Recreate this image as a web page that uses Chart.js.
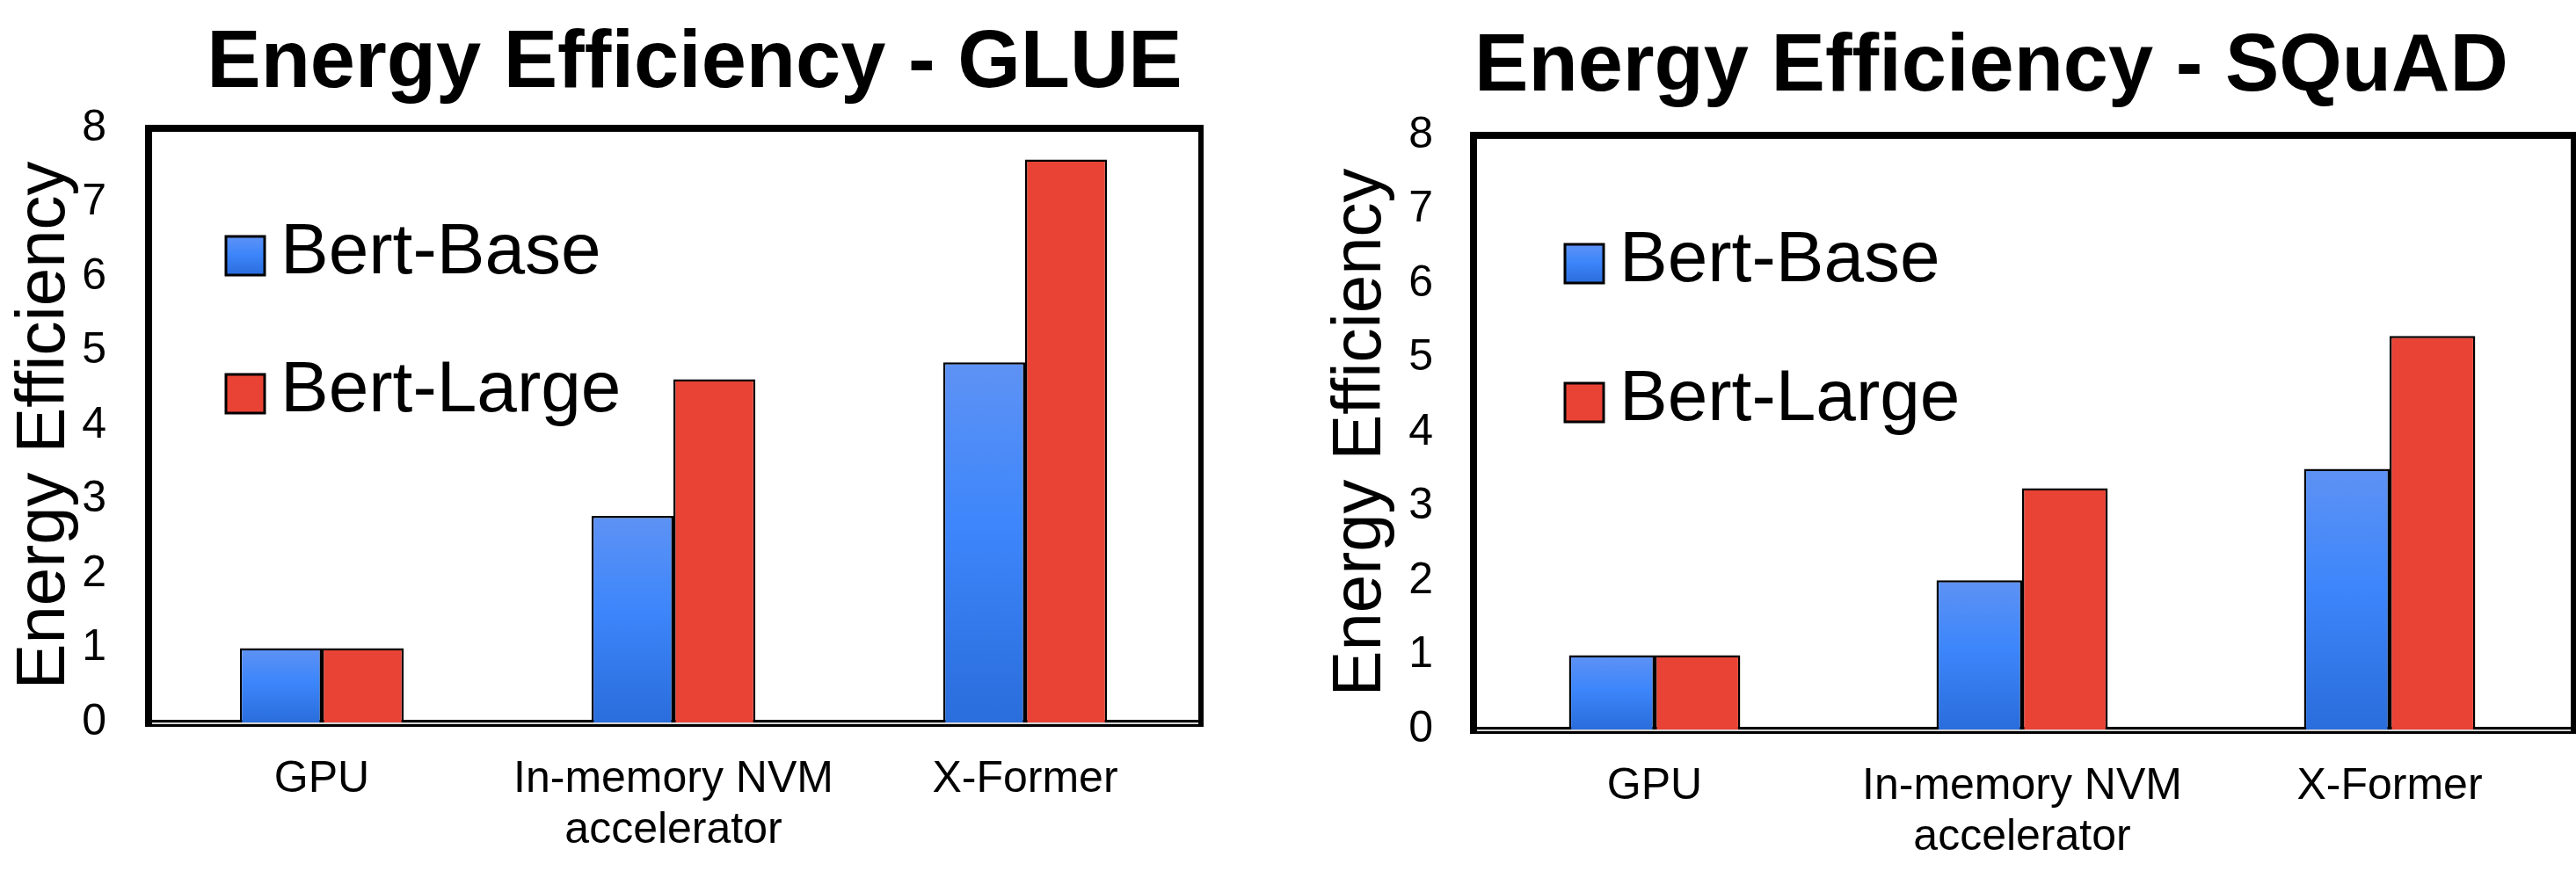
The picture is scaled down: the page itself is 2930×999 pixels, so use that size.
<!DOCTYPE html>
<html>
<head>
<meta charset="utf-8">
<script src="https://cdn.jsdelivr.net/npm/chart.js@4.4.1/dist/chart.umd.min.js"></script>
<style>
  html, body { margin: 0; padding: 0; background: #fff; }
  body { position: relative; width: 2930px; height: 999px; overflow: hidden; }
  canvas { position: absolute; top: 0; }
</style>
</head>
<body>
<canvas id="glue" width="1580" height="999" style="left:0"></canvas>
<canvas id="squad" width="1600" height="999" style="left:1465px"></canvas>
<script>
const categories = ['GPU', ['In-memory NVM', 'accelerator'], 'X-Former'];
const seriesNames = ['Bert-Base', 'Bert-Large'];
const glueBase = [1, 2.78, 4.85];
const glueLarge = [1, 4.62, 7.58];
const squadBase = [1, 2.01, 3.51];
const squadLarge = [1, 3.25, 5.30];
const yMin = 0;
const yMax = 8;
const yStep = 1;

const FONT = "'Liberation Sans', Arial, sans-serif";
const RED = '#e94335';
const BLUE_STOPS = [[0, '#5e92f4'], [0.45, '#3d86fb'], [1, '#2a6ddc']];

Chart.defaults.font.family = FONT;
Chart.defaults.color = '#000';

function blueGradient(ctx, top, bottom) {
  const g = ctx.createLinearGradient(0, top, 0, bottom);
  BLUE_STOPS.forEach(([s, c]) => g.addColorStop(s, c));
  return g;
}

// each blue bar gets its own top-to-bottom gradient
function blueFill(context) {
  const chart = context.chart;
  if (!chart.chartArea || context.type !== 'data') return '#3d86fb';
  const y = chart.scales.y;
  return blueGradient(chart.ctx, y.getPixelForValue(context.raw), y.getPixelForValue(0));
}

// thick box around the plot, with the grey stripe in the base line
const framePlugin = {
  id: 'frame',
  beforeDatasetsDraw(chart) {
    const { ctx, chartArea: a } = chart;
    ctx.save();
    ctx.fillStyle = '#000';
    ctx.fillRect(a.left - 1, a.top - 4, a.right - a.left + 4, 8);
    ctx.fillRect(a.left - 1, a.top - 4, 8, a.bottom - a.top + 9);
    ctx.fillRect(a.right - 3, a.top - 4, 6, a.bottom - a.top + 9);
    ctx.fillRect(a.left - 1, a.bottom - 3, a.right - a.left + 4, 8);
    ctx.fillStyle = '#d2d2d2';
    ctx.fillRect(a.left + 7, a.bottom, a.right - a.left - 10, 2);
    ctx.restore();
  }
};

// legend sits inside the plot, upper left
const legendPlugin = {
  id: 'insideLegend',
  afterDatasetsDraw(chart, args, opts) {
    const { ctx, chartArea: a } = chart;
    ctx.save();
    ctx.font = `${opts.fontSize}px ${FONT}`;
    ctx.textBaseline = 'middle';
    ctx.textAlign = 'left';
    chart.data.datasets.forEach((ds, i) => {
      const x = a.left + opts.x;
      const cy = a.top + opts.rows[i];
      const y = cy - opts.box / 2;
      ctx.fillStyle = i === 0 ? blueGradient(ctx, y, y + opts.box) : RED;
      ctx.fillRect(x, y, opts.box, opts.box);
      ctx.lineWidth = 3;
      ctx.strokeStyle = '#000';
      ctx.strokeRect(x, y, opts.box, opts.box);
      ctx.fillStyle = '#000';
      ctx.fillText(ds.label, x + opts.box + opts.gap, cy - 3);
    });
    ctx.restore();
  }
};

function makeChart(id, title, base, large, cfg) {
  return new Chart(document.getElementById(id), {
    type: 'bar',
    data: {
      labels: categories,
      datasets: [{
        label: seriesNames[0],
        data: base,
        backgroundColor: blueFill,
        borderColor: '#000',
        borderWidth: 2.5
      }, {
        label: seriesNames[1],
        data: large,
        backgroundColor: RED,
        borderColor: '#000',
        borderWidth: 2.5
      }]
    },
    options: {
      responsive: false,
      animation: false,
      layout: { padding: 0 },
      datasets: { bar: { categoryPercentage: 0.466, barPercentage: 1 } },
      scales: {
        x: {
          grid: { display: false, drawTicks: false },
          border: { display: false },
          ticks: { padding: cfg.xPad, font: { size: 50, lineHeight: 1.16 }, color: '#000', maxRotation: 0 },
          afterFit: (s) => { s.height = cfg.xHeight; }
        },
        y: {
          min: yMin,
          max: yMax,
          grid: { display: false, drawTicks: false },
          border: { display: false },
          ticks: { stepSize: yStep, padding: cfg.yPad, font: { size: 50 }, color: '#000' },
          title: {
            display: true,
            text: 'Energy Efficiency',
            color: '#000',
            font: { size: 78, lineHeight: 1 },
            padding: { top: cfg.yTitlePad, bottom: 0 }
          },
          afterFit: (s) => { s.width = cfg.yWidth; }
        },
        // empty spacer on the right so the title centres like the original
        spacer: {
          type: 'linear',
          position: 'right',
          grid: { display: false, drawTicks: false },
          border: { display: false },
          ticks: { display: false },
          afterFit: (s) => { s.width = cfg.rightGap; }
        }
      },
      plugins: {
        legend: { display: false },
        tooltip: { enabled: false },
        title: {
          display: true,
          text: title,
          color: '#000',
          font: { size: 92, weight: 'bold' },
          padding: cfg.titlePad
        },
        insideLegend: cfg.legend
      }
    },
    plugins: [framePlugin, legendPlugin]
  });
}

makeChart('glue', 'Energy Efficiency - GLUE', glueBase, glueLarge, {
  xPad: 36, xHeight: 177, yPad: 45, yWidth: 166, yTitlePad: 12, rightGap: 214,
  titlePad: { top: 18, bottom: 17.6 },
  legend: { x: 91, rows: [145, 302], box: 44, gap: 18, fontSize: 82 }
});

makeChart('squad', 'Energy Efficiency - SQuAD', squadBase, squadLarge, {
  xPad: 36, xHeight: 169, yPad: 43, yWidth: 208, yTitlePad: 44, rightGap: 138,
  titlePad: { top: 22, bottom: 21.6 },
  legend: { x: 107, rows: [146, 304], box: 44, gap: 18, fontSize: 82 }
});
</script>
</body>
</html>
